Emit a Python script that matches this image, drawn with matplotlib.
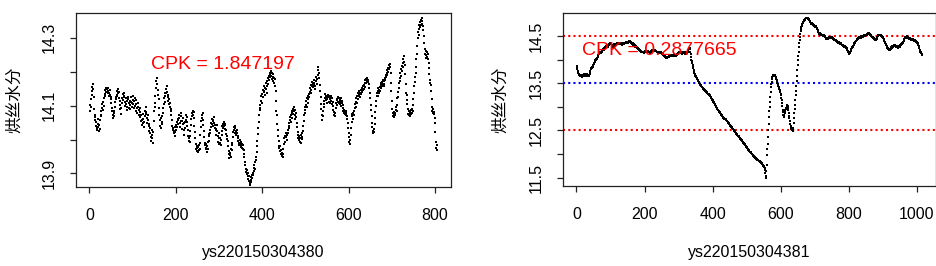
import numpy as np
import matplotlib
matplotlib.use("Agg")
import matplotlib.pyplot as plt

plt.rcParams['font.family'] = ['Liberation Sans', 'Noto Sans CJK SC', 'DejaVu Sans']

# ---------------- data ----------------
left_title = "ys220150304380"
right_title = "ys220150304381"
y_label = "烘丝水分"
left_cpk = "CPK = 1.847197"
right_cpk = "CPK = 0.2877665"
usl = 14.5
lsl = 12.5
target = 13.5

left_values = [
    14.085, 14.102, 14.118, 14.095, 14.131, 14.142, 14.155, 14.163, 14.148, 14.126,
    14.091, 14.072, 14.058, 14.066, 14.041, 14.052, 14.035, 14.028, 14.047, 14.061,
    14.038, 14.025, 14.043, 14.057, 14.031, 14.072, 14.085, 14.068, 14.093, 14.104,
    14.087, 14.112, 14.098, 14.121, 14.134, 14.128, 14.145, 14.139, 14.152, 14.141,
    14.148, 14.136, 14.143, 14.151, 14.128, 14.137, 14.146, 14.132, 14.119, 14.126,
    14.108, 14.094, 14.083, 14.071, 14.062, 14.078, 14.069, 14.085, 14.097, 14.112,
    14.125, 14.118, 14.131, 14.142, 14.127, 14.136, 14.148, 14.139, 14.122, 14.115,
    14.103, 14.089, 14.076, 14.094, 14.108, 14.121, 14.133, 14.117, 14.126, 14.138,
    14.129, 14.112, 14.098, 14.106, 14.121, 14.113, 14.087, 14.096, 14.118, 14.125,
    14.107, 14.093, 14.115, 14.102, 14.089, 14.111, 14.124, 14.108, 14.095, 14.117,
    14.128, 14.106, 14.092, 14.113, 14.121, 14.098, 14.085, 14.104, 14.116, 14.093,
    14.078, 14.096, 14.107, 14.088, 14.072, 14.093, 14.081, 14.066, 14.054, 14.071,
    14.058, 14.043, 14.061, 14.075, 14.049, 14.036, 14.052, 14.068, 14.083, 14.074,
    14.095, 14.081, 14.063, 14.048, 14.072, 14.058, 14.039, 14.026, 14.047, 14.033,
    14.018, 14.007, 13.995, 14.012, 14.028, 14.004, 13.991, 14.021, 14.056, 14.084,
    14.107, 14.096, 14.128, 14.153, 14.172, 14.181, 14.163, 14.147, 14.132, 14.118,
    14.094, 14.072, 14.058, 14.041, 14.063, 14.035, 14.047, 14.069, 14.052, 14.078,
    14.093, 14.106, 14.121, 14.138, 14.129, 14.112, 14.137, 14.149, 14.158, 14.141,
    14.125, 14.113, 14.132, 14.118, 14.104, 14.097, 14.108, 14.091, 14.083, 14.072,
    14.058, 14.041, 14.027, 14.033, 14.019, 14.025, 14.038, 14.022, 14.011, 14.029,
    14.043, 14.036, 14.052, 14.061, 14.047, 14.058, 14.073, 14.064, 14.049, 14.038,
    14.056, 14.069, 14.077, 14.054, 14.031, 14.045, 14.062, 14.048, 14.027, 14.013,
    14.034, 14.051, 14.072, 14.058, 14.041, 14.066, 14.053, 14.028, 14.009, 13.996,
    14.004, 13.992, 14.011, 14.026, 14.043, 14.061, 14.078, 14.069, 14.084, 14.072,
    14.081, 14.063, 14.041, 14.022, 14.003, 13.987, 13.972, 13.981, 13.966, 13.975,
    13.962, 13.978, 13.969, 13.984, 13.973, 13.991, 14.012, 14.038, 14.056, 14.071,
    14.064, 14.078, 14.059, 14.043, 14.026, 14.008, 13.991, 13.983, 13.972, 13.988,
    13.976, 13.964, 13.981, 13.972, 13.993, 14.011, 13.996, 14.015, 14.028, 14.019,
    14.036, 14.048, 14.061, 14.047, 14.058, 14.039, 14.054, 14.066, 14.049, 14.035,
    14.042, 14.028, 14.013, 14.031, 14.044, 14.026, 14.009, 13.994, 14.003, 13.988,
    14.018, 14.003, 13.991, 13.985, 13.998, 14.012, 14.026, 14.041, 14.033, 14.047,
    14.039, 14.052, 14.044, 14.031, 14.046, 14.027, 14.015, 14.002, 14.011, 13.995,
    13.981, 13.967, 13.958, 13.946, 13.953, 13.961, 13.949, 13.972, 13.985, 13.968,
    13.991, 14.008, 14.023, 14.036, 14.028, 14.041, 14.019, 14.034, 14.026, 14.012,
    14.027, 14.018, 14.003, 13.996, 14.009, 13.991, 13.984, 13.998, 13.987, 13.979,
    13.993, 13.981, 13.976, 13.988, 13.972, 13.985, 13.969, 13.958, 13.947, 13.933,
    13.924, 13.912, 13.903, 13.897, 13.911, 13.902, 13.893, 13.884, 13.891, 13.879,
    13.872, 13.865, 13.881, 13.874, 13.889, 13.896, 13.887, 13.902, 13.894, 13.908,
    13.917, 13.926, 13.912, 13.935, 13.948, 13.939, 13.962, 13.981, 13.997, 14.016,
    14.034, 14.052, 14.071, 14.088, 14.102, 14.093, 14.115, 14.128, 14.109, 14.134,
    14.147, 14.126, 14.139, 14.158, 14.143, 14.131, 14.152, 14.166, 14.149, 14.137,
    14.158, 14.172, 14.163, 14.181, 14.174, 14.188, 14.195, 14.183, 14.192, 14.201,
    14.187, 14.196, 14.178, 14.185, 14.193, 14.172, 14.181, 14.166, 14.179, 14.158,
    14.142, 14.115, 14.084, 14.073, 14.046, 14.028, 14.011, 13.996, 13.982, 13.974,
    13.965, 13.981, 13.957, 13.968, 13.952, 13.961, 13.948, 13.957, 13.972, 13.986,
    14.003, 13.994, 14.011, 14.006, 14.018, 14.009, 13.998, 14.014, 14.027, 14.019,
    14.035, 14.048, 14.041, 14.057, 14.066, 14.052, 14.071, 14.063, 14.079, 14.085,
    14.074, 14.091, 14.083, 14.097, 14.088, 14.072, 14.061, 14.078, 14.066, 14.049,
    14.036, 14.022, 14.014, 14.005, 13.998, 14.009, 13.994, 14.003, 14.012, 13.991,
    14.006, 14.018, 14.002, 14.025, 14.039, 14.054, 14.071, 14.086, 14.078, 14.095,
    14.103, 14.114, 14.097, 14.122, 14.109, 14.127, 14.118, 14.133, 14.126, 14.141,
    14.153, 14.138, 14.162, 14.147, 14.158, 14.171, 14.163, 14.154, 14.168, 14.176,
    14.162, 14.149, 14.157, 14.172, 14.183, 14.165, 14.178, 14.191, 14.204, 14.213,
    14.196, 14.182, 14.161, 14.143, 14.124, 14.106, 14.089, 14.072, 14.058, 14.069,
    14.083, 14.097, 14.114, 14.106, 14.121, 14.133, 14.117, 14.128, 14.109, 14.124,
    14.118, 14.131, 14.124, 14.112, 14.127, 14.119, 14.108, 14.123, 14.115, 14.128,
    14.121, 14.106, 14.098, 14.112, 14.087, 14.071, 14.082, 14.069, 14.078, 14.094,
    14.108, 14.116, 14.103, 14.119, 14.126, 14.112, 14.121, 14.109, 14.117, 14.104,
    14.112, 14.098, 14.121, 14.107, 14.115, 14.101, 14.092, 14.084, 14.079, 14.088,
    14.076, 14.082, 14.071, 14.085, 14.078, 14.069, 14.061, 14.048, 14.035, 14.019,
    14.006, 13.994, 13.987, 13.998, 14.012, 14.034, 14.052, 14.068, 14.074, 14.061,
    14.079, 14.085, 14.071, 14.093, 14.104, 14.097, 14.112, 14.121, 14.108, 14.127,
    14.136, 14.118, 14.129, 14.142, 14.131, 14.124, 14.138, 14.147, 14.133, 14.142,
    14.151, 14.139, 14.146, 14.158, 14.149, 14.162, 14.155, 14.168, 14.174, 14.166,
    14.178, 14.172, 14.181, 14.176, 14.169, 14.174, 14.165, 14.152, 14.138, 14.121,
    14.103, 14.086, 14.068, 14.049, 14.037, 14.025, 14.018, 14.031, 14.022, 14.045,
    14.063, 14.082, 14.098, 14.114, 14.127, 14.136, 14.129, 14.143, 14.151, 14.138,
    14.147, 14.156, 14.142, 14.161, 14.152, 14.166, 14.158, 14.171, 14.163, 14.176,
    14.158, 14.172, 14.165, 14.181, 14.176, 14.189, 14.183, 14.197, 14.191, 14.204,
    14.212, 14.198, 14.221, 14.207, 14.215, 14.223, 14.196, 14.168, 14.142, 14.113,
    14.091, 14.078, 14.069, 14.082, 14.074, 14.065, 14.079, 14.071, 14.088, 14.096,
    14.084, 14.103, 14.121, 14.139, 14.126, 14.152, 14.168, 14.181, 14.173, 14.196,
    14.188, 14.209, 14.201, 14.218, 14.226, 14.214, 14.238, 14.229, 14.247, 14.221,
    14.193, 14.165, 14.138, 14.116, 14.132, 14.104, 14.089, 14.076, 14.083, 14.071,
    14.078, 14.069, 14.082, 14.074, 14.086, 14.079, 14.091, 14.084, 14.102, 14.118,
    14.136, 14.158, 14.183, 14.171, 14.197, 14.214, 14.238, 14.252, 14.276, 14.298,
    14.317, 14.309, 14.326, 14.338, 14.331, 14.345, 14.338, 14.352, 14.341, 14.359,
    14.348, 14.336, 14.322, 14.305, 14.286, 14.268, 14.253, 14.241, 14.262, 14.248,
    14.257, 14.243, 14.238, 14.251, 14.226, 14.212, 14.194, 14.176, 14.168, 14.161,
    14.142, 14.118, 14.096, 14.084, 14.077, 14.089, 14.081, 14.074, 14.062, 14.048,
    14.021, 13.992, 13.976, 13.968, 13.984,
]

right_values = [
    13.86, 13.84, 13.80, 13.76, 13.72, 13.70, 13.68, 13.67, 13.66, 13.67,
    13.68, 13.66, 13.65, 13.67, 13.68, 13.66, 13.64, 13.65, 13.67, 13.68,
    13.69, 13.67, 13.66, 13.68, 13.70, 13.69, 13.67, 13.66, 13.68, 13.70,
    13.69, 13.67, 13.65, 13.66, 13.68, 13.67, 13.66, 13.68, 13.70, 13.73,
    13.76, 13.79, 13.81, 13.83, 13.84, 13.83, 13.85, 13.84, 13.86, 13.88,
    13.91, 13.93, 13.95, 13.96, 13.98, 13.99, 14.01, 14.00, 14.02, 14.04,
    14.03, 14.05, 14.08, 14.10, 14.12, 14.11, 14.13, 14.15, 14.14, 14.16,
    14.15, 14.13, 14.16, 14.18, 14.17, 14.19, 14.21, 14.20, 14.22, 14.21,
    14.23, 14.25, 14.24, 14.26, 14.25, 14.27, 14.26, 14.28, 14.27, 14.29,
    14.28, 14.27, 14.29, 14.31, 14.30, 14.32, 14.31, 14.33, 14.34, 14.33,
    14.34, 14.32, 14.30, 14.28, 14.26, 14.27, 14.29, 14.31, 14.30, 14.32,
    14.33, 14.31, 14.30, 14.29, 14.30, 14.31, 14.33, 14.34, 14.32, 14.33,
    14.35, 14.34, 14.33, 14.35, 14.36, 14.34, 14.33, 14.35, 14.34, 14.32,
    14.33, 14.34, 14.32, 14.31, 14.33, 14.34, 14.35, 14.33, 14.32, 14.34,
    14.35, 14.34, 14.36, 14.35, 14.37, 14.36, 14.35, 14.37, 14.38, 14.36,
    14.37, 14.38, 14.37, 14.39, 14.38, 14.37, 14.39, 14.38, 14.36, 14.37,
    14.35, 14.36, 14.34, 14.33, 14.34, 14.32, 14.31, 14.32, 14.30, 14.29,
    14.30, 14.28, 14.27, 14.28, 14.26, 14.27, 14.25, 14.26, 14.24, 14.25,
    14.23, 14.24, 14.22, 14.21, 14.22, 14.20, 14.19, 14.18, 14.17, 14.18,
    14.16, 14.17, 14.15, 14.16, 14.17, 14.15, 14.14, 14.16, 14.15, 14.17,
    14.16, 14.18, 14.17, 14.19, 14.18, 14.17, 14.16, 14.18, 14.19, 14.17,
    14.16, 14.15, 14.17, 14.16, 14.14, 14.15, 14.17, 14.18, 14.16, 14.17,
    14.19, 14.18, 14.20, 14.21, 14.19, 14.20, 14.18, 14.19, 14.20, 14.21,
    14.20, 14.21, 14.19, 14.18, 14.19, 14.17, 14.16, 14.17, 14.15, 14.16,
    14.17, 14.15, 14.14, 14.16, 14.15, 14.16, 14.17, 14.15, 14.13, 14.12,
    14.13, 14.11, 14.10, 14.11, 14.09, 14.08, 14.09, 14.07, 14.08, 14.06,
    14.07, 14.05, 14.06, 14.04, 14.05, 14.06, 14.04, 14.05, 14.06, 14.05,
    14.07, 14.06, 14.08, 14.07, 14.09, 14.08, 14.07, 14.09, 14.08, 14.10,
    14.09, 14.08, 14.10, 14.09, 14.07, 14.08, 14.10, 14.11, 14.09, 14.10,
    14.08, 14.07, 14.09, 14.10, 14.12, 14.11, 14.13, 14.12, 14.14, 14.13,
    14.15, 14.14, 14.16, 14.15, 14.17, 14.16, 14.14, 14.15, 14.13, 14.14,
    14.12, 14.13, 14.15, 14.14, 14.16, 14.15, 14.13, 14.12, 14.14, 14.13,
    14.15, 14.14, 14.16, 14.15, 14.13, 14.14, 14.16, 14.18, 14.20, 14.22,
    14.23, 14.24, 14.25, 14.22, 14.17, 14.11, 14.05, 14.00, 13.96, 13.92,
    13.88, 13.84, 13.81, 13.77, 13.74, 13.72, 13.70, 13.68, 13.66, 13.65,
    13.63, 13.62, 13.61, 13.59, 13.58, 13.57, 13.55, 13.54, 13.53, 13.51,
    13.50, 13.49, 13.48, 13.47, 13.45, 13.44, 13.43, 13.42, 13.41, 13.41,
    13.40, 13.39, 13.38, 13.37, 13.37, 13.36, 13.35, 13.34, 13.34, 13.33,
    13.32, 13.32, 13.31, 13.30, 13.29, 13.28, 13.28, 13.27, 13.26, 13.25,
    13.24, 13.23, 13.22, 13.21, 13.20, 13.19, 13.17, 13.16, 13.15, 13.14,
    13.13, 13.11, 13.10, 13.09, 13.07, 13.06, 13.05, 13.03, 13.02, 13.01,
    12.99, 12.98, 12.97, 12.96, 12.94, 12.93, 12.92, 12.91, 12.90, 12.89,
    12.88, 12.87, 12.86, 12.85, 12.84, 12.83, 12.82, 12.81, 12.80, 12.79,
    12.78, 12.77, 12.76, 12.76, 12.75, 12.74, 12.73, 12.73, 12.72, 12.71,
    12.70, 12.70, 12.69, 12.68, 12.67, 12.66, 12.65, 12.64, 12.63, 12.62,
    12.61, 12.60, 12.59, 12.58, 12.57, 12.56, 12.55, 12.54, 12.53, 12.52,
    12.52, 12.51, 12.50, 12.49, 12.48, 12.47, 12.46, 12.45, 12.44, 12.43,
    12.42, 12.41, 12.40, 12.39, 12.39, 12.38, 12.37, 12.36, 12.35, 12.34,
    12.33, 12.32, 12.31, 12.30, 12.29, 12.28, 12.27, 12.26, 12.25, 12.24,
    12.23, 12.22, 12.21, 12.20, 12.19, 12.18, 12.17, 12.16, 12.15, 12.14,
    12.13, 12.12, 12.11, 12.10, 12.09, 12.08, 12.07, 12.06, 12.05, 12.04,
    12.03, 12.03, 12.02, 12.01, 12.00, 11.99, 11.99, 11.98, 11.97, 11.96,
    11.96, 11.95, 11.94, 11.93, 11.93, 11.92, 11.91, 11.91, 11.90, 11.89,
    11.89, 11.88, 11.87, 11.87, 11.86, 11.85, 11.85, 11.84, 11.83, 11.83,
    11.82, 11.81, 11.80, 11.80, 11.79, 11.78, 11.77, 11.76, 11.75, 11.74,
    11.73, 11.72, 11.70, 11.66, 11.60, 11.54, 11.49, 11.63, 11.77, 11.98,
    12.10, 12.22, 12.36, 12.50, 12.64, 12.79, 12.90, 13.00, 13.10, 13.21,
    13.31, 13.42, 13.48, 13.53, 13.58, 13.62, 13.65, 13.66, 13.67, 13.68,
    13.67, 13.66, 13.67, 13.65, 13.63, 13.61, 13.58, 13.56, 13.53, 13.50,
    13.48, 13.46, 13.44, 13.42, 13.40, 13.38, 13.36, 13.34, 13.31, 13.28,
    13.24, 13.19, 13.14, 13.08, 13.01, 12.94, 12.88, 12.83, 12.80, 12.79,
    12.82, 12.86, 12.90, 12.93, 12.95, 12.97, 12.98, 13.00, 13.02, 13.03,
    13.01, 12.97, 12.92, 12.86, 12.81, 12.76, 12.70, 12.64, 12.59, 12.55,
    12.53, 12.51, 12.50, 12.50, 12.49, 12.50, 12.55, 12.65, 12.76, 12.86,
    12.95, 13.04, 13.14, 13.24, 13.33, 13.43, 13.54, 13.66, 13.77, 13.88,
    13.99, 14.08, 14.17, 14.26, 14.34, 14.41, 14.48, 14.54, 14.60, 14.65,
    14.68, 14.71, 14.73, 14.75, 14.77, 14.79, 14.80, 14.81, 14.82, 14.83,
    14.84, 14.85, 14.86, 14.87, 14.88, 14.88, 14.89, 14.89, 14.88, 14.87,
    14.86, 14.85, 14.84, 14.83, 14.82, 14.80, 14.79, 14.78, 14.77, 14.76,
    14.77, 14.76, 14.75, 14.76, 14.74, 14.73, 14.74, 14.72, 14.71, 14.72,
    14.70, 14.69, 14.70, 14.69, 14.68, 14.67, 14.66, 14.64, 14.62, 14.60,
    14.58, 14.57, 14.56, 14.55, 14.56, 14.54, 14.53, 14.54, 14.52, 14.53,
    14.51, 14.52, 14.51, 14.50, 14.51, 14.50, 14.49, 14.51, 14.50, 14.48,
    14.47, 14.46, 14.45, 14.44, 14.45, 14.44, 14.43, 14.44, 14.45, 14.46,
    14.47, 14.46, 14.45, 14.47, 14.48, 14.47, 14.46, 14.45, 14.46, 14.47,
    14.46, 14.45, 14.44, 14.45, 14.46, 14.44, 14.43, 14.42, 14.41, 14.42,
    14.41, 14.40, 14.41, 14.40, 14.39, 14.38, 14.39, 14.37, 14.38, 14.36,
    14.37, 14.35, 14.36, 14.34, 14.33, 14.34, 14.32, 14.33, 14.31, 14.30,
    14.31, 14.30, 14.29, 14.30, 14.28, 14.29, 14.27, 14.28, 14.26, 14.27,
    14.25, 14.26, 14.24, 14.25, 14.23, 14.21, 14.19, 14.17, 14.15, 14.14,
    14.13, 14.12, 14.13, 14.15, 14.17, 14.19, 14.21, 14.22, 14.24, 14.25,
    14.26, 14.27, 14.28, 14.29, 14.31, 14.32, 14.34, 14.35, 14.37, 14.38,
    14.39, 14.40, 14.42, 14.43, 14.44, 14.43, 14.45, 14.46, 14.45, 14.47,
    14.48, 14.47, 14.46, 14.48, 14.49, 14.47, 14.46, 14.48, 14.50, 14.49,
    14.48, 14.50, 14.49, 14.51, 14.50, 14.49, 14.51, 14.52, 14.50, 14.51,
    14.52, 14.53, 14.52, 14.54, 14.53, 14.55, 14.54, 14.56, 14.55, 14.57,
    14.56, 14.55, 14.53, 14.52, 14.50, 14.51, 14.49, 14.48, 14.47, 14.46,
    14.47, 14.45, 14.44, 14.45, 14.43, 14.42, 14.44, 14.43, 14.42, 14.41,
    14.42, 14.44, 14.46, 14.47, 14.49, 14.50, 14.51, 14.53, 14.52, 14.51,
    14.52, 14.53, 14.51, 14.52, 14.50, 14.51, 14.49, 14.50, 14.48, 14.47,
    14.48, 14.46, 14.44, 14.42, 14.40, 14.38, 14.36, 14.35, 14.33, 14.31,
    14.30, 14.28, 14.27, 14.25, 14.24, 14.23, 14.22, 14.21, 14.22, 14.20,
    14.21, 14.23, 14.22, 14.24, 14.26, 14.25, 14.27, 14.28, 14.27, 14.29,
    14.28, 14.30, 14.29, 14.31, 14.30, 14.28, 14.29, 14.27, 14.26, 14.28,
    14.27, 14.26, 14.28, 14.27, 14.25, 14.26, 14.28, 14.27, 14.26, 14.27,
    14.29, 14.31, 14.30, 14.32, 14.31, 14.33, 14.34, 14.33, 14.34, 14.36,
    14.38, 14.40, 14.42, 14.44, 14.45, 14.47, 14.46, 14.48, 14.47, 14.48,
    14.47, 14.49, 14.48, 14.47, 14.46, 14.45, 14.46, 14.44, 14.45, 14.43,
    14.44, 14.43, 14.44, 14.42, 14.43, 14.42, 14.41, 14.43, 14.42, 14.41,
    14.42, 14.41, 14.40, 14.41, 14.39, 14.40, 14.39, 14.38, 14.37, 14.38,
    14.36, 14.37, 14.35, 14.33, 14.31, 14.29, 14.26, 14.24, 14.21, 14.19,
    14.17, 14.15, 14.13, 14.11, 14.10, 14.09,
]

left_xticks = [0, 200, 400, 600, 800]
left_yticks = [13.9, 14.0, 14.1, 14.2, 14.3]
left_yticklabels = ["13.9", "", "14.1", "", "14.3"]
right_xticks = [0, 200, 400, 600, 800, 1000]
right_yticks = [11.5, 12.0, 12.5, 13.0, 13.5, 14.0, 14.5]
right_yticklabels = ["11.5", "", "12.5", "", "13.5", "", "14.5"]

# ---------------- figure ----------------
W, H = 937, 266
fig = plt.figure(figsize=(W / 100, H / 100), dpi=100)

ax1 = fig.add_axes([76 / W, (H - 187) / H, 375 / W, 174 / H])
ax2 = fig.add_axes([563 / W, (H - 186) / H, 373 / W, 173 / H])

FS_TICK = 11.5
FS_LAB = 11.5


def style(ax, xticks, yticks, yticklabels, xlabel):
    for sp in ax.spines.values():
        sp.set_linewidth(0.9)
        sp.set_color('#222222')
    ax.set_xticks(xticks)
    ax.set_xticklabels([str(t) for t in xticks], fontsize=FS_TICK)
    ax.set_yticks(yticks)
    ax.set_yticklabels(yticklabels, fontsize=FS_TICK, rotation=90, va='center')
    ax.tick_params(axis='both', direction='out', length=4.5, width=0.9, color='#222222')
    ax.tick_params(axis='x', pad=10.5)
    ax.tick_params(axis='y', pad=9)
    ax.set_xlabel(xlabel, fontsize=FS_LAB)
    ax.xaxis.label.set_va('center')
    ax.set_ylabel(y_label, fontsize=12)
    ax.yaxis.label.set_va('center')


# left panel
x1 = np.arange(1, len(left_values) + 1)
ax1.plot(x1, left_values, linestyle='none', marker='s', markersize=1.5,
         markeredgewidth=0, color='black')
ax1.set_xlim(-31, 837)
ax1.set_ylim(13.86, 14.373)
style(ax1, left_xticks, left_yticks, left_yticklabels, left_title)
ax1.xaxis.set_label_coords(0.5, -0.379)
ax1.yaxis.set_label_coords(-0.163, 0.5)
ax1.text(309, 14.22, left_cpk, color='#FF0000', fontsize=14, ha='center', va='center')

# right panel
x2 = np.arange(1, len(right_values) + 1)
ax2.axhline(usl, color='#FF0000', linestyle=(0, (1, 1.5)), linewidth=1.5)
ax2.axhline(lsl, color='#FF0000', linestyle=(0, (1, 1.5)), linewidth=1.5)
ax2.axhline(target, color='#0000FF', linestyle=(0, (1, 1.5)), linewidth=1.5)
ax2.plot(x2, right_values, linestyle='none', marker='s', markersize=1.5,
         markeredgewidth=0, color='black')
ax2.set_xlim(-39.6, 1056.6)
ax2.set_ylim(11.32, 14.986)
style(ax2, right_xticks, right_yticks, right_yticklabels, right_title)
ax2.xaxis.set_label_coords(0.5, -0.386)
ax2.yaxis.set_label_coords(-0.168, 0.5)
ax2.text(242, 14.19, right_cpk, color='#FF0000', fontsize=14, ha='center', va='center')

fig.savefig('out.png', dpi=100)
